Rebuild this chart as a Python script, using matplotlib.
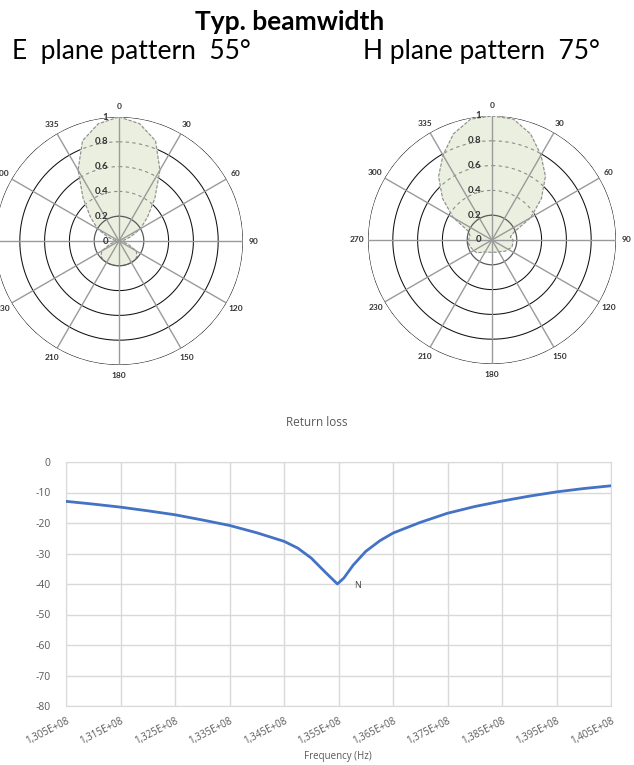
import numpy as np
import matplotlib
matplotlib.use("Agg")
import matplotlib.pyplot as plt
from matplotlib import transforms

plt.rcParams['font.family'] = ['Lato', 'DejaVu Sans']

# ---------------- data ----------------
e_angles = [0, 10, 20, 30, 40, 50, 60, 70, 80, 90, 100, 110, 120, 130, 140, 150, 160, 170,
            180, 190, 200, 210, 220, 230, 240, 250, 260, 270, 280, 290, 300, 310, 320, 330, 340, 350]
e_values = [1.00, 0.96, 0.86, 0.66, 0.45, 0.30, 0.20, 0.10, 0.04, 0.01, 0.03, 0.08, 0.16, 0.19, 0.20, 0.20, 0.20, 0.20,
            0.20, 0.20, 0.20, 0.20, 0.20, 0.19, 0.16, 0.08, 0.03, 0.01, 0.04, 0.10, 0.20, 0.30, 0.45, 0.66, 0.86, 0.96]

h_angles = [0, 10, 20, 30, 40, 50, 60, 70, 80, 90, 100, 110, 120, 130, 140, 150, 160, 170,
            180, 190, 200, 210, 220, 230, 240, 250, 260, 270, 280, 290, 300, 310, 320, 330, 340, 350]
h_values = [1.00, 0.99, 0.91, 0.79, 0.67, 0.52, 0.36, 0.19, 0.15, 0.17, 0.17, 0.17, 0.15, 0.14, 0.12, 0.11, 0.105, 0.10,
            0.10, 0.10, 0.105, 0.11, 0.13, 0.16, 0.17, 0.18, 0.19, 0.19, 0.18, 0.20, 0.36, 0.52, 0.67, 0.79, 0.91, 0.99]

spoke_angles = [0, 30, 60, 90, 120, 150, 180, 210, 240, 270, 300, 330]
spoke_labels = ['0', '30', '60', '90', '120', '150', '180', '210', '230', '270', '300', '335']
ring_values = [0.2, 0.4, 0.6, 0.8, 1.0]
ring_labels = ['0.2', '0.4', '0.6', '0.8', '1']

freq_hz = [1.305e8, 1.310e8, 1.315e8, 1.320e8, 1.325e8, 1.330e8, 1.335e8, 1.340e8, 1.345e8,
           1.3475e8, 1.350e8, 1.3525e8, 1.3548e8, 1.3560e8, 1.3577e8, 1.360e8, 1.3626e8, 1.365e8,
           1.370e8, 1.375e8, 1.380e8, 1.385e8, 1.390e8, 1.395e8, 1.400e8, 1.405e8]
return_loss_db = [-12.9, -13.8, -14.8, -16.0, -17.3, -19.0, -20.8, -23.2, -26.0,
                  -28.2, -31.5, -36.0, -40.0, -38.0, -33.8, -29.3, -25.8, -23.3,
                  -19.8, -16.8, -14.6, -12.8, -11.2, -9.8, -8.7, -7.8]
x_ticks = [1.305e8, 1.315e8, 1.325e8, 1.335e8, 1.345e8, 1.355e8, 1.365e8, 1.375e8, 1.385e8, 1.395e8, 1.405e8]
x_tick_labels = ['1,305E+08', '1,315E+08', '1,325E+08', '1,335E+08', '1,345E+08', '1,355E+08',
                 '1,365E+08', '1,375E+08', '1,385E+08', '1,395E+08', '1,405E+08']
y_ticks = [0, -10, -20, -30, -40, -50, -60, -70, -80]

W, H = 634, 765
fig = plt.figure(figsize=(W / 100, H / 100), dpi=100)

FILL = '#EBEFDF'


def polar_panel(cx, cy, R, angles, values):
    ax = fig.add_axes([(cx - R) / W, (H - cy - R) / H, 2 * R / W, 2 * R / H], projection='polar')
    ax.set_theta_zero_location('N')
    ax.set_theta_direction(-1)
    ax.set_ylim(0, 1)
    ax.grid(False)
    ax.spines['polar'].set_visible(False)
    ax.set_xticks([])
    ax.set_yticks([])
    ax.patch.set_alpha(0)
    full = np.linspace(0, 2 * np.pi, 361)
    for rv in ring_values:
        if rv == 0.2:
            ax.plot(full, np.full_like(full, rv), color='#595959', lw=0.9, zorder=4)
        else:
            ax.plot(full, np.full_like(full, rv), color='#111111', lw=0.75, zorder=1)
    th = np.deg2rad(list(angles) + [angles[0]])
    rr = list(values) + [values[0]]
    poly = ax.fill(th, rr, color=FILL, zorder=2)[0]
    ax.plot(th, rr, color='#8C8C8C', lw=0.8, ls=(0, (3, 1.5)), zorder=3)
    for rv in [0.4, 0.6, 0.8]:
        ln, = ax.plot(full, np.full_like(full, rv), color='#8C8C8C', lw=0.8, ls=(0, (3, 3)), zorder=3)
        ln.set_clip_path(poly)
    for a in spoke_angles:
        ax.plot([np.deg2rad(a)] * 2, [0, 1], color='#9A9A9A', lw=1.0, zorder=5)
    for a, lab in zip(spoke_angles, spoke_labels):
        ax.text(np.deg2rad(a), 1.085, lab, ha='center', va='center', fontsize=6,
                fontweight='bold', color='#333333', zorder=6)
    off = transforms.offset_copy(ax.transData, fig=fig, x=-8, y=0, units='points')
    for rv, lab in zip([0.0] + ring_values, ['0'] + ring_labels):
        ax.text(0, rv, lab, ha='right', va='center', fontsize=7, fontweight='bold',
                color='#333333', transform=off, zorder=6)
    return ax


polar_panel(119, 241, 124, e_angles, e_values)
polar_panel(492, 240, 124, h_angles, h_values)

fig.text(290 / W, 1 - 22 / H, 'Typ. beamwidth', ha='center', va='center', fontsize=19, fontweight='bold')
fig.text(12 / W, 1 - 52 / H, 'E  plane pattern  55°', ha='left', va='center', fontsize=19)
fig.text(363 / W, 1 - 52 / H, 'H plane pattern  75°', ha='left', va='center', fontsize=19)

# ---------------- return loss ----------------
GRAY_TXT = '#595959'
ax2 = fig.add_axes([66 / W, (H - 706) / H, 545 / W, 244 / H])
ax2.plot(freq_hz, return_loss_db, color='#4472C4', lw=2.0, zorder=3)
ax2.set_xlim(x_ticks[0], x_ticks[-1])
ax2.set_ylim(-80, 0)
ax2.set_xticks(x_ticks)
ax2.set_xticklabels(x_tick_labels, rotation=27, ha='right', va='top', rotation_mode='anchor',
                    fontsize=7, color=GRAY_TXT, family=['Open Sans', 'DejaVu Sans'])
ax2.set_yticks(y_ticks)
ax2.set_yticklabels([str(v) for v in y_ticks], fontsize=7.5, color=GRAY_TXT, family=['Open Sans', 'DejaVu Sans'])
ax2.tick_params(axis='y', length=0, pad=11)
ax2.tick_params(axis='x', length=0, pad=7)
ax2.grid(True, color='#D9D9D9', lw=1.0)
for s in ax2.spines.values():
    s.set_color('#D9D9D9')
i_min = int(np.argmin(return_loss_db))
ax2.annotate('N', xy=(freq_hz[i_min], return_loss_db[i_min]), xytext=(12, -1), textcoords='offset points',
             fontsize=6.5, color='#404040', va='center', ha='left', family=['Open Sans', 'DejaVu Sans'])
fig.text(317 / W, 1 - 423 / H, 'Return loss', ha='center', va='center', fontsize=8.5, color=GRAY_TXT,
         family=['Open Sans', 'DejaVu Sans'])
fig.text(338 / W, 1 - 757 / H, 'Frequency (Hz)', ha='center', va='center', fontsize=7, color=GRAY_TXT,
         family=['Open Sans', 'DejaVu Sans'])

fig.savefig('out.png', dpi=100)
